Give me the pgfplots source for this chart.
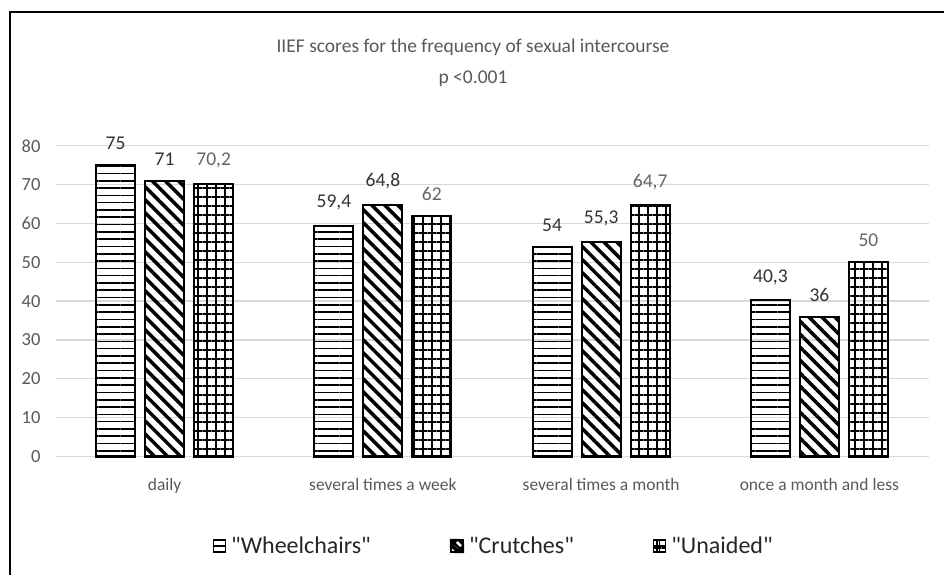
\documentclass[border=0pt]{standalone}
\usepackage{fontspec}
\setmainfont{Carlito}
\newcommand\sq{\XeTeXglyph\XeTeXcharglyph"22\relax}
\usepackage{pgfplots}
\pgfplotsset{compat=1.18}
\usetikzlibrary{patterns.meta}
\definecolor{txtgrey}{HTML}{595959}
\definecolor{gridgrey}{HTML}{D9D9D9}
\definecolor{lbldark}{HTML}{333333}
\definecolor{lbllight}{HTML}{666666}
\begin{document}
\begin{tikzpicture}[x=1pt,y=1pt]
\useasboundingbox (0,0) rectangle (944,575);
\draw[line width=2pt] (10,0) -- (10,563) -- (944,563);
\node[align=center, text=txtgrey, font=\fontsize{19.5}{31}\selectfont] at (473,512.5) {IIEF scores for the frequency of sexual intercourse\\p <0.001};
\begin{axis}[
  at={(55.5pt,118.5pt)}, anchor=south west, scale only axis,
  width=873pt, height=310.7pt,
  xmin=-0.5, xmax=3.5, ymin=0, ymax=80,
  ybar=10pt, bar width=39pt,
  xtick={0,1,2,3},
  xticklabels={daily, several times a week, several times a month, once a month and less},
  ytick={0,10,...,80},
  axis line style={draw=none}, major tick length=0pt,
  ymajorgrids, grid style={gridgrey, line width=1.3pt},
  ticklabel style={text=txtgrey},
  yticklabel style={font=\fontsize{18.5}{20}\selectfont, xshift=-11.5pt},
  xticklabel style={font=\fontsize{17.5}{20}\selectfont, yshift=-18pt},
  /pgf/number format/assume math mode=true,
  /pgf/number format/use comma,
  clip=false,
  nodes near coords,
  nodes near coords style={font=\fontsize{19.5}{22}\selectfont, yshift=11pt},
  legend style={at={(0.502,-0.288)}, anchor=center, draw=none, fill=none,
    font=\fontsize{24}{26}\selectfont, text=black!85,
    /tikz/every odd column/.append style={column sep=3pt},
    /tikz/every even column/.append style={column sep=77pt}},
  legend columns=3, legend cell align=left,
]
\addplot[draw=black, line width=2.2pt,
  pattern={Lines[angle=0,distance=7.3pt,line width=1.6pt]},
  every node near coord/.append style={text=lbldark},
  legend image code/.code={\draw[line width=1.4pt] (0pt,-6pt) rectangle (12pt,6pt); \draw[line width=1.2pt] (0pt,0pt)--(12pt,0pt);}]
  coordinates {(0,75) (1,59.4) (2,54) (3,40.3)};
\addlegendentry{\sq Wheelchairs\sq}
\addplot[draw=black, line width=2.2pt,
  pattern={Lines[angle=-45,distance=9.2pt,line width=3.5pt]},
  every node near coord/.append style={text=lbldark},
  legend image code/.code={\fill (0pt,6pt) -- (6pt,6pt) -- (0pt,0pt) -- cycle; \fill (12pt,-6pt) -- (6pt,-6pt) -- (12pt,0pt) -- cycle; \draw[line width=1.4pt] (0pt,-6pt) rectangle (12pt,6pt); \draw[line width=2.5pt] (1pt,5pt)--(11pt,-5pt);}]
  coordinates {(0,71) (1,64.8) (2,55.3) (3,36)};
\addlegendentry{\sq Crutches\sq}
\addplot[draw=black, line width=2.2pt,
  pattern={Hatch[distance=9pt,line width=1.4pt]},
  every node near coord/.append style={text=lbllight},
  legend image code/.code={\draw[line width=1.4pt] (0pt,-6pt) rectangle (12pt,6pt); \draw[line width=1.2pt] (0pt,0pt)--(12pt,0pt) (6pt,-6pt)--(6pt,6pt);}]
  coordinates {(0,70.2) (1,62) (2,64.7) (3,50)};
\addlegendentry{\sq Unaided\sq}
\end{axis}
\end{tikzpicture}
\end{document}
